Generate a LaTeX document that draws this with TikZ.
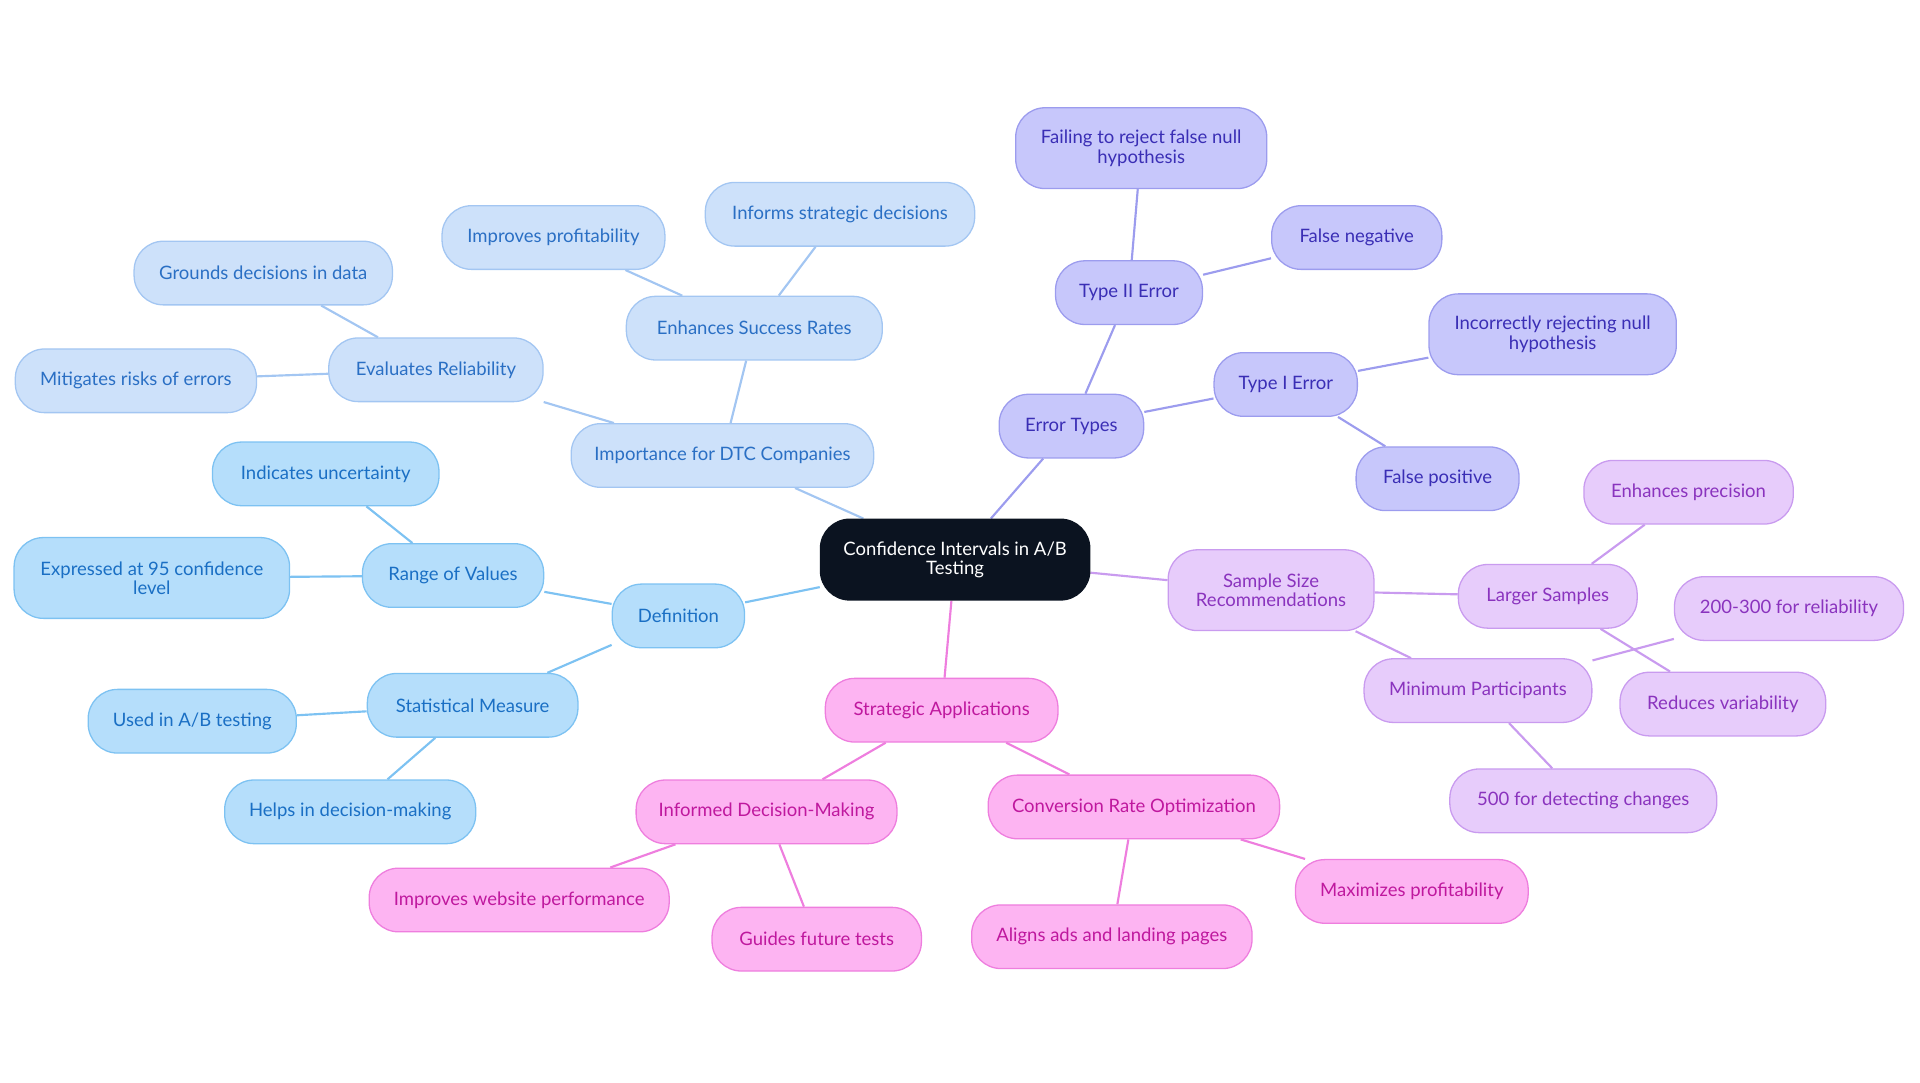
\documentclass[tikz,border=0pt]{standalone}
\usepackage{fontspec}
\setmainfont{Lato}
\usetikzlibrary{backgrounds}
\definecolor{bF}{HTML}{B5DEFB}\definecolor{bS}{HTML}{7DC2F2}\definecolor{bT}{HTML}{1A6FC4}
\definecolor{lF}{HTML}{CDE1FA}\definecolor{lS}{HTML}{A3C6F2}\definecolor{lT}{HTML}{2A6FC4}
\definecolor{iF}{HTML}{C7C7FB}\definecolor{iS}{HTML}{9C9CEE}\definecolor{iT}{HTML}{3A2EB5}
\definecolor{pF}{HTML}{E7CCFB}\definecolor{pS}{HTML}{C99BEF}\definecolor{pT}{HTML}{8A33BE}
\definecolor{kF}{HTML}{FDB4F2}\definecolor{kS}{HTML}{EE7EDE}\definecolor{kT}{HTML}{BF189E}
\definecolor{cF}{HTML}{0B1320}
\begin{document}
\begin{tikzpicture}[x=0.02cm,y=-0.02cm,
 base/.style={rounded corners=0.48cm,minimum height=1.04cm,align=center,font=\fontsize{8.6}{9}\selectfont,line width=0.6pt,inner sep=1pt},
 w/.style={minimum width=#1*0.02cm},
 tall/.style={minimum height=1.32cm},
 B/.style={base,fill=bF,draw=bS,text=bT},
 L/.style={base,fill=lF,draw=lS,text=lT},
 I/.style={base,fill=iF,draw=iS,text=iT},
 P/.style={base,fill=pF,draw=pS,text=pT},
 K/.style={base,fill=kF,draw=kS,text=kT},
 eB/.style={draw=bS,line width=1pt},eL/.style={draw=lS,line width=1pt},
 eI/.style={draw=iS,line width=1pt},eP/.style={draw=pS,line width=1pt},eK/.style={draw=kS,line width=1pt}]
\useasboundingbox (0,0) rectangle (1568,884);
\node[base,fill=cF,draw=cF,text=white,w=220,tall] (c) at (780,457) {Confidence Intervals in A/B\\Testing};
\node[B,w=108] (def) at (554,503) {Definition};
\node[B,w=148] (rv) at (370,470) {Range of Values};
\node[B,w=185] (iu) at (266,387) {Indicates uncertainty};
\node[B,w=225,tall] (ex) at (124,472) {Expressed at 95 confidence\\level};
\node[B,w=172] (sm) at (386,576) {Statistical Measure};
\node[B,w=170] (ua) at (157,589) {Used in A/B testing};
\node[B,w=205] (hd) at (286,663) {Helps in decision-making};
\node[L,w=247] (imp) at (590,372) {Importance for DTC Companies};
\node[L,w=175] (er) at (356,302) {Evaluates Reliability};
\node[L,w=211] (gd) at (215,223) {Grounds decisions in data};
\node[L,w=197] (mr) at (111,311) {Mitigates risks of errors};
\node[L,w=209] (es) at (616,268) {Enhances Success Rates};
\node[L,w=182] (ip) at (452,194) {Improves profitability};
\node[L,w=220] (is) at (686,175) {Informs strategic decisions};
\node[I,w=118] (et) at (875,348) {Error Types};
\node[I,w=120] (t2) at (922,239) {Type II Error};
\node[I,w=205,tall] (fr) at (932,121) {Failing to reject false null\\hypothesis};
\node[I,w=139] (fn) at (1108,194) {False negative};
\node[I,w=117] (t1) at (1050,314) {Type I Error};
\node[I,w=202,tall] (ir) at (1268,273) {Incorrectly rejecting null\\hypothesis};
\node[I,w=133] (fp) at (1174,391) {False positive};
\node[P,w=168,tall] (ss) at (1038,482) {Sample Size\\Recommendations};
\node[P,w=146] (ls) at (1264,487) {Larger Samples};
\node[P,w=171] (ep) at (1379,402) {Enhances precision};
\node[P,w=168] (rvb) at (1407,575) {Reduces variability};
\node[P,w=186] (mp) at (1207,564) {Minimum Participants};
\node[P,w=187] (tt) at (1461,497) {200-300 for reliability};
\node[P,w=218] (fh) at (1293,654) {500 for detecting changes};
\node[K,w=190] (sa) at (769,580) {Strategic Applications};
\node[K,w=213] (idm) at (626,663) {Informed Decision-Making};
\node[K,w=245] (iw) at (424,735) {Improves website performance};
\node[K,w=171] (gf) at (667,767) {Guides future tests};
\node[K,w=238] (cro) at (926,659) {Conversion Rate Optimization};
\node[K,w=229] (aa) at (908,765) {Aligns ads and landing pages};
\node[K,w=190] (mx) at (1153,728) {Maximizes profitability};
\begin{scope}[on background layer]
\draw[eB] (c)--(def) (def)--(rv) (rv)--(iu) (rv)--(ex) (def)--(sm) (sm)--(ua) (sm)--(hd);
\draw[eL] (c)--(imp) (imp)--(er) (er)--(gd) (er)--(mr) (imp)--(es) (es)--(ip) (es)--(is);
\draw[eI] (c)--(et) (et)--(t2) (t2)--(fr) (t2)--(fn) (et)--(t1) (t1)--(ir) (t1)--(fp);
\draw[eP] (c)--(ss) (ss)--(ls) (ls)--(ep) (ls)--(rvb) (ss)--(mp) (mp)--(tt) (mp)--(fh);
\draw[eK] (c)--(sa) (sa)--(idm) (idm)--(iw) (idm)--(gf) (sa)--(cro) (cro)--(aa) (cro)--(mx);
\end{scope}
\end{tikzpicture}
\end{document}
